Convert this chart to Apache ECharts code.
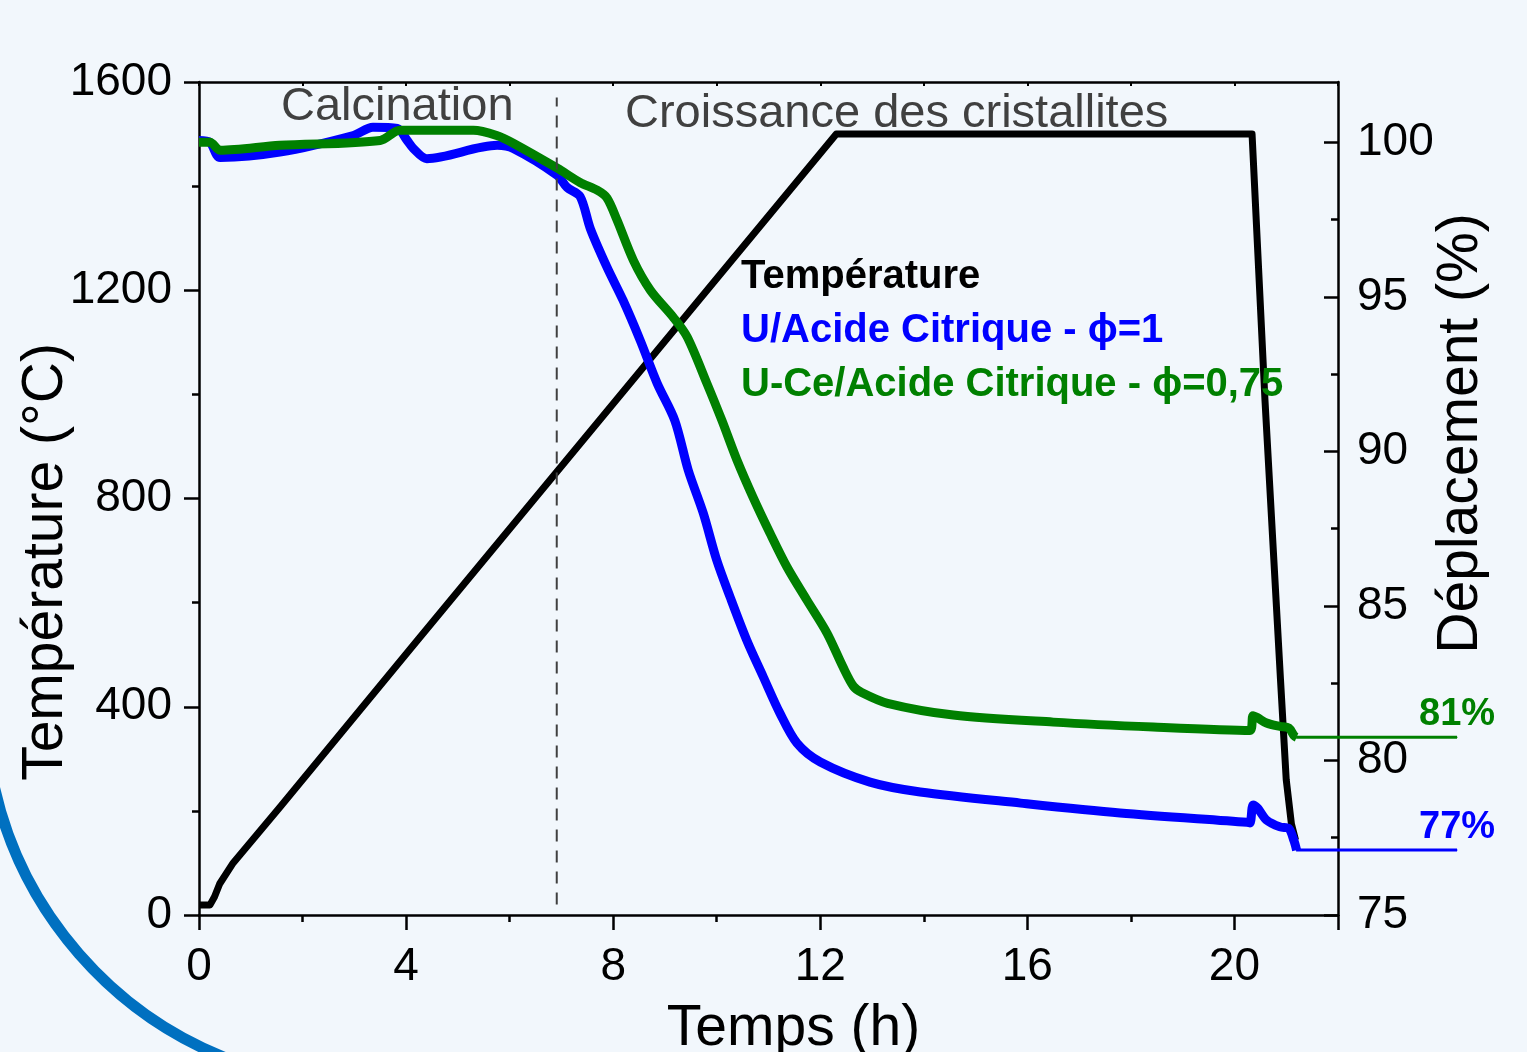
<!DOCTYPE html>
<html>
<head>
<meta charset="utf-8">
<script src="https://cdn.jsdelivr.net/npm/echarts@6/dist/echarts.min.js"></script>
<style>
  html, body { margin: 0; padding: 0; background: #f2f7fc; }
  #chart { width: 1527px; height: 1052px; }
</style>
</head>
<body>
<div id="chart"></div>
<script>
// temperature program (left axis, °C)
var tempTime  = [0, 0.21, 0.3, 0.4, 0.66, 1.57, 4.14, 7.2, 12.31, 20.34, 20.59, 20.89, 21.0, 21.1, 21.18];
var tempValue = [19, 19, 35, 60, 100, 208, 518, 886, 1500, 1500, 988, 451, 260, 175, 144];

// U/Acide Citrique - phi=1 (right axis, %)
var blueTime  = [0, 0.21, 0.41, 1.56, 2.98, 3.36, 3.83, 4.02, 4.14, 4.4, 5.76, 6.07, 6.92, 7.11, 7.36, 7.56, 7.88,
                 8.19, 8.52, 8.85, 9.19, 9.45, 9.74, 10.0, 10.26, 10.58, 10.9, 11.22, 11.55, 12.0, 12.96, 13.93,
                 15.87, 17.79, 20.24, 20.3, 20.36, 20.45, 20.62, 20.88, 21.05, 21.15, 21.2];
var blueValue = [100.06, 100.0, 99.51, 99.68, 100.22, 100.49, 100.45, 100.06, 99.8, 99.47, 99.9, 99.8, 98.93, 98.54, 98.25, 97.2, 95.96,
                 94.89, 93.6, 92.2, 91.0, 89.39, 88.0, 86.48, 85.28, 83.89, 82.7, 81.53, 80.56, 79.95, 79.3, 78.98,
                 78.62, 78.3, 78.0, 77.98, 78.56, 78.45, 78.07, 77.85, 77.8, 77.4, 77.1];

// U-Ce/Acide Citrique - phi=0,75 (right axis, %)
var greenTime  = [0, 0.21, 0.41, 1.56, 3.5, 3.88, 5.3, 5.75, 6.07, 6.92, 7.36, 7.69, 7.88, 8.07, 8.39, 8.72, 9.16,
                  9.43, 9.81, 10.1, 10.39, 10.7, 11.03, 11.36, 11.74, 12.13, 12.44, 12.64, 12.8, 13.3, 14.57, 16.5,
                  18.43, 20.3, 20.36, 20.45, 20.62, 20.88, 21.05, 21.15, 21.2];
var greenValue = [100.0, 100.0, 99.74, 99.9, 100.06, 100.39, 100.39, 100.22, 99.97, 99.16, 98.7, 98.45, 98.2, 97.5, 96.18, 95.21, 94.34,
                  93.7, 92.2, 91.0, 89.72, 88.52, 87.35, 86.25, 85.19, 84.12, 83.02, 82.4, 82.2, 81.85, 81.47, 81.24,
                  81.08, 80.97, 81.45, 81.38, 81.21, 81.1, 81.05, 80.8, 80.75];

// final displacement markers (drawn past the right axis)
var tailTime   = [21.2, 24.31];
var tailGreen  = 80.75;
var tailBlue   = 77.1;
var tailLabels = ['81%', '77%'];

var phaseBoundary = 6.91;
var phaseNames = ['Calcination', 'Croissance des cristallites'];
var seriesNames = ['Température', 'U/Acide Citrique - ϕ=1', 'U-Ce/Acide Citrique - ϕ=0,75'];

var xMajor = [0, 4, 8, 12, 16, 20, 22];
var xLabels = [0, 4, 8, 12, 16, 20];
var xMinor = [2, 6, 10, 14, 18];
var rMajor = [75, 80, 85, 90, 95, 100];
var rMinor = [77.5, 82.5, 87.5, 92.5, 97.5];

function pairs(xs, ys) {
  return xs.map(function (x, i) { return [x, ys[i]]; });
}

var FONT = "'Liberation Sans', Arial, sans-serif";
var AX = '#000000';
var myChart = echarts.init(document.getElementById('chart'));

var gridBox = { left: 199, right: 189, top: 82, bottom: 137, outerBoundsMode: 'none', containLabel: false };

var option = {
  backgroundColor: '#f2f7fc',
  animation: false,
  textStyle: { fontFamily: FONT },
  grid: [
    gridBox,
    Object.assign({}, gridBox),
    Object.assign({}, gridBox, { right: 1527 - 199 - 24.31 * (1138.5 / 22) })
  ],
  graphic: [
    {
      type: 'arc', z: 0, silent: true,
      shape: { cx: 367, cy: 703, r: 382, startAngle: 1.9, endAngle: 2.95 },
      style: { stroke: '#0070c0', lineWidth: 11, fill: null }
    },
    {
      type: 'text', left: 281, top: 84, z: 10,
      style: { text: phaseNames[0], fill: '#404040', font: '47px ' + FONT }
    },
    {
      type: 'text', left: 625, top: 91, z: 10,
      style: { text: phaseNames[1], fill: '#404040', font: '47px ' + FONT }
    }
  ],
  legend: {
    orient: 'vertical', left: 731, top: 252,
    icon: 'none', itemWidth: 0, itemGap: 14, selectedMode: false,
    textStyle: { fontSize: 40, fontWeight: 'bold', fontFamily: FONT },
    data: [
      { name: seriesNames[0], textStyle: { color: '#000000' } },
      { name: seriesNames[1], textStyle: { color: '#0000ff' } },
      { name: seriesNames[2], textStyle: { color: '#008000' } }
    ]
  },
  xAxis: [
    {
      type: 'value', gridIndex: 0, position: 'bottom', min: 0, max: 22, interval: 4,
      name: 'Temps (h)', nameLocation: 'middle', nameGap: 86, nameMoveOverlap: false,
      nameTextStyle: { fontSize: 57, color: AX, padding: [0, 0, 0, 50] },
      axisLine: { show: true, onZero: false, lineStyle: { color: AX, width: 2.5 } },
      axisTick: { show: true, inside: false, length: 15, customValues: xMajor, lineStyle: { color: AX, width: 2.5 } },
      axisLabel: { fontSize: 46, color: AX, margin: 29, customValues: xLabels },
      splitLine: { show: false }
    },
    {
      type: 'value', gridIndex: 0, position: 'top', min: 0, max: 22, interval: 2,
      axisLine: { show: true, onZero: false, lineStyle: { color: AX, width: 2.5 } },
      axisTick: { show: true, inside: true, length: 4, lineStyle: { color: AX, width: 2 } },
      axisLabel: { show: false },
      splitLine: { show: false }
    },
    {
      // minor ticks of the time axis
      type: 'value', gridIndex: 1, position: 'bottom', min: 0, max: 22, interval: 2,
      axisLine: { show: false, onZero: false },
      axisTick: { show: true, inside: false, length: 7, customValues: xMinor, lineStyle: { color: AX, width: 2.5 } },
      axisLabel: { show: false },
      splitLine: { show: false }
    },
    {
      type: 'value', gridIndex: 2, min: 0, max: tailTime[1], show: false
    }
  ],
  yAxis: [
    {
      type: 'value', gridIndex: 0, position: 'left', min: 0, max: 1600, interval: 400,
      name: 'Température (°C)', nameLocation: 'middle', nameGap: 124, nameMoveOverlap: false,
      nameTextStyle: { fontSize: 57, color: AX, padding: [0, 127, 0, 0] },
      axisLine: { show: true, onZero: false, lineStyle: { color: AX, width: 2.5 } },
      axisTick: { show: true, inside: false, length: 15, lineStyle: { color: AX, width: 2.5 } },
      minorTick: { show: true, splitNumber: 2, length: 7, lineStyle: { color: AX, width: 2.5 } },
      axisLabel: { fontSize: 46, color: AX, margin: 27, formatter: function (v) { return String(v); } },
      splitLine: { show: false }
    },
    {
      type: 'value', gridIndex: 0, position: 'right', min: 75, max: 101.95, interval: 5,
      name: 'Déplacement (%)', nameLocation: 'middle', nameGap: 95, nameMoveOverlap: false,
      nameTextStyle: { fontSize: 57, color: AX, padding: [0, 0, 0, 130] },
      axisLine: { show: true, onZero: false, lineStyle: { color: AX, width: 2.5 } },
      axisTick: { show: true, inside: true, length: 14, customValues: rMajor, lineStyle: { color: AX, width: 2.5 } },
      axisLabel: { fontSize: 46, color: AX, margin: 19, customValues: rMajor },
      splitLine: { show: false }
    },
    {
      // minor ticks of the displacement axis
      type: 'value', gridIndex: 1, position: 'right', min: 75, max: 101.95, interval: 5,
      axisLine: { show: false, onZero: false },
      axisTick: { show: true, inside: true, length: 7, customValues: rMinor, lineStyle: { color: AX, width: 2.5 } },
      axisLabel: { show: false },
      splitLine: { show: false }
    },
    {
      type: 'value', gridIndex: 2, min: 75, max: 101.95, show: false
    }
  ],
  series: [
    {
      name: seriesNames[0], type: 'line', xAxisIndex: 0, yAxisIndex: 0,
      data: pairs(tempTime, tempValue), showSymbol: false, z: 3,
      lineStyle: { color: '#000000', width: 7, join: 'round' }, itemStyle: { color: '#000000' }
    },
    {
      name: seriesNames[1], type: 'line', xAxisIndex: 0, yAxisIndex: 1,
      data: pairs(blueTime, blueValue), showSymbol: false, z: 4, smooth: 0.3,
      lineStyle: { color: '#0000ff', width: 9, join: 'round' }, itemStyle: { color: '#0000ff' }
    },
    {
      name: seriesNames[2], type: 'line', xAxisIndex: 0, yAxisIndex: 1,
      data: pairs(greenTime, greenValue), showSymbol: false, z: 5, smooth: 0.3,
      lineStyle: { color: '#008000', width: 9, join: 'round' }, itemStyle: { color: '#008000' }
    },
    {
      name: 'fin81', type: 'line', xAxisIndex: 3, yAxisIndex: 3, z: 4, clip: false,
      symbol: 'circle', symbolSize: 1, showSymbol: true,
      data: [
        [tailTime[0], tailGreen],
        { value: [tailTime[1], tailGreen],
          label: { show: true, position: 'top', distance: 3, formatter: tailLabels[0],
                   fontSize: 38, fontWeight: 'bold', color: '#008000' } }
      ],
      lineStyle: { color: '#008000', width: 3 }, itemStyle: { color: '#008000' }
    },
    {
      name: 'fin77', type: 'line', xAxisIndex: 3, yAxisIndex: 3, z: 4, clip: false,
      symbol: 'circle', symbolSize: 1, showSymbol: true,
      data: [
        [tailTime[0], tailBlue],
        { value: [tailTime[1], tailBlue],
          label: { show: true, position: 'top', distance: 3, formatter: tailLabels[1],
                   fontSize: 38, fontWeight: 'bold', color: '#0000ff' } }
      ],
      lineStyle: { color: '#0000ff', width: 3 }, itemStyle: { color: '#0000ff' }
    },
    {
      name: 'limite', type: 'line', xAxisIndex: 0, yAxisIndex: 0, z: 6,
      data: [[phaseBoundary, 20], [phaseBoundary, 1570]], showSymbol: false,
      lineStyle: { color: '#404040', width: 2, type: [12, 9] }
    }
  ]
};

myChart.setOption(option);
</script>
</body>
</html>
